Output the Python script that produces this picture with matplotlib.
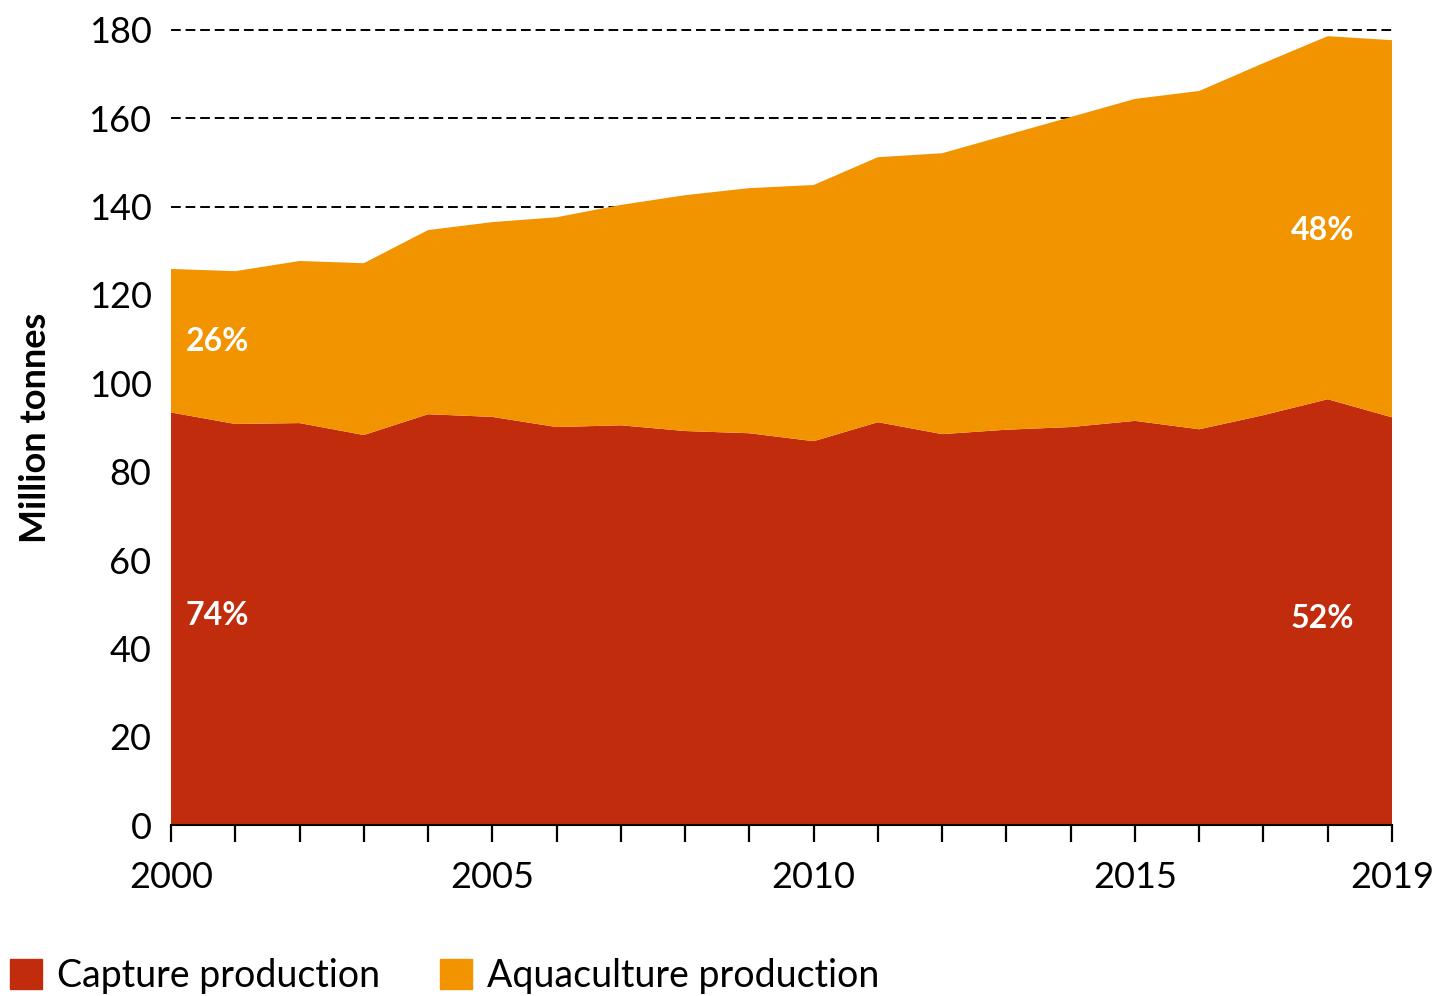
import matplotlib
matplotlib.use("Agg")
import matplotlib.pyplot as plt
from matplotlib.patches import Patch

plt.rcParams['font.family'] = ['Lato', 'DejaVu Sans']

# data (million tonnes)
years = list(range(2000, 2020))
capture = [93.4, 90.8, 91.0, 88.3, 93.0, 92.4, 90.1, 90.5, 89.2, 88.7,
           86.9, 91.2, 88.5, 89.5, 90.1, 91.5, 89.6, 92.8, 96.4, 92.3]
total = [125.9, 125.4, 127.7, 127.2, 134.7, 136.5, 137.6, 140.4, 142.6, 144.2,
         144.9, 151.2, 152.1, 156.2, 160.3, 164.4, 166.2, 172.5, 178.6, 177.7]
aquaculture = [t - c for t, c in zip(total, capture)]

series_names = ["Capture production", "Aquaculture production"]
yticks = [0, 20, 40, 60, 80, 100, 120, 140, 160, 180]
xlabels = {2000: "2000", 2005: "2005", 2010: "2010", 2015: "2015", 2019: "2019"}
shares = [("26%", 2000.72, 109.5), ("74%", 2000.72, 47.5),
          ("48%", 2017.92, 134.7), ("52%", 2017.92, 46.8)]

red = "#C02C0C"
orange = "#F29400"

fig = plt.figure(figsize=(14.37, 9.96), dpi=100)
ax = fig.add_axes([171 / 1437, 171 / 996, (1392 - 171) / 1437, (825 - 30) / 996])

# dashed gridlines sit behind the areas
ax.hlines(yticks[1:], 2000, 2019.06, colors="black", linestyles=(0, (5, 2.5)),
          linewidth=1.4, zorder=0, clip_on=False)

ax.stackplot(years, capture, aquaculture, colors=[red, orange], zorder=2,
             linewidth=0)

ax.set_xlim(2000, 2019)
ax.set_ylim(0, 180)

for s in ["left", "right", "top"]:
    ax.spines[s].set_visible(False)
ax.spines["bottom"].set_linewidth(1.5)
ax.spines["bottom"].set_zorder(3)

ax.set_xticks(years)
ax.set_xticklabels([xlabels.get(y, "") for y in years], fontsize=26)
ax.tick_params(axis="x", length=12, width=1.6, pad=14)
ax.set_yticks(yticks)
ax.set_yticklabels([str(v) for v in yticks], fontsize=26)
ax.tick_params(axis="y", length=0, pad=14)

ax.set_ylabel("Million tonnes", fontsize=26, fontweight="bold", labelpad=26)

for txt, x, y in shares:
    ax.text(x, y, txt, color="white", fontsize=23, fontweight="bold",
            ha="center", va="center", zorder=4)

handles = [Patch(color=red), Patch(color=orange)]
fig.legend(handles, series_names, loc="lower left", bbox_to_anchor=(-0.006, -0.017),
           ncol=2, frameon=False, fontsize=27, handlelength=0.85,
           handleheight=0.85, handletextpad=0.4, columnspacing=1.6,
           borderaxespad=0.1)

fig.savefig("out.png", dpi=100)
